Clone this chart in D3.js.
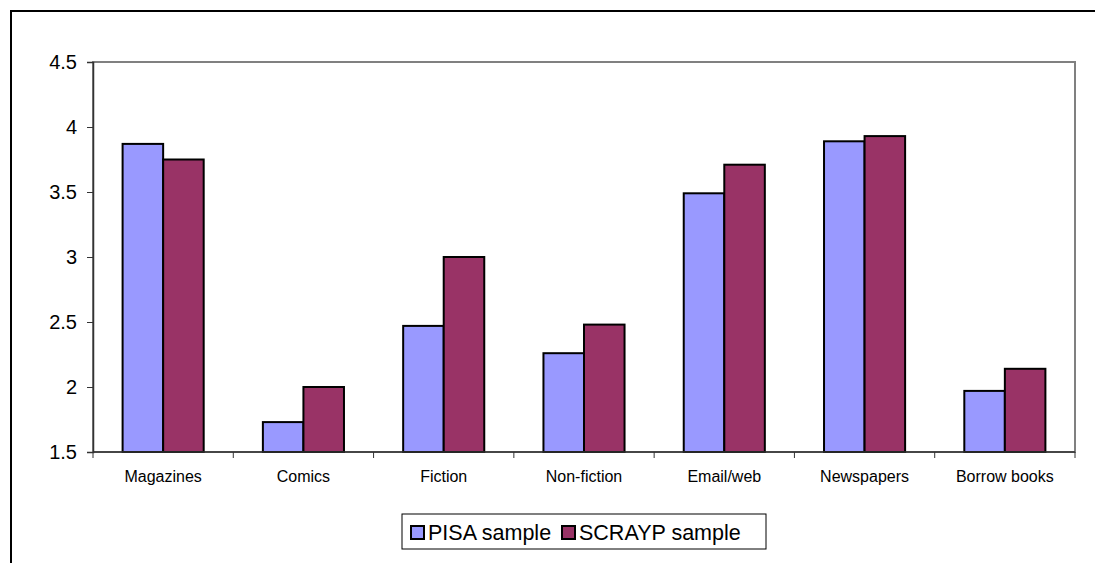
<!DOCTYPE html>
<html>
<head>
<meta charset="utf-8">
<script src="https://cdn.jsdelivr.net/npm/d3@7"></script>
<style>
  body { margin: 0; background: #fff; }
  svg { font-family: "Liberation Sans", Arial, sans-serif; }
</style>
</head>
<body>
<div id="chart"></div>
<script>
// data
var categories = ["Magazines", "Comics", "Fiction", "Non-fiction", "Email/web", "Newspapers", "Borrow books"];
var seriesNames = ["PISA sample", "SCRAYP sample"];
var pisa = [3.87, 1.73, 2.47, 2.26, 3.49, 3.89, 1.97];
var scrayp = [3.75, 2.00, 3.00, 2.48, 3.71, 3.93, 2.14];
var yTicks = [1.5, 2, 2.5, 3, 3.5, 4, 4.5];
var colors = ["#9999FF", "#993366"];

var width = 1095, height = 563;
var margin = {top: 62, right: 20, bottom: 111, left: 93};
var w = 1075 - margin.left, h = 452 - margin.top;

var svg = d3.select("#chart").append("svg")
    .attr("width", width)
    .attr("height", height);

// outer frame (runs off the right and bottom edges)
svg.append("rect")
    .attr("x", 11).attr("y", 11)
    .attr("width", 1100).attr("height", 600)
    .style("fill", "none")
    .style("stroke", "#000")
    .style("stroke-width", 2);

var g = svg.append("g").attr("transform", "translate(" + margin.left + "," + margin.top + ")");

var x = d3.scaleBand().domain(categories).range([0, w]);
var xs = d3.scaleBand().domain(seriesNames).range([0, x.bandwidth()]).paddingOuter(0.73);
var y = d3.scaleLinear().domain([1.5, 4.5]).range([h, 0]);

// plot area border (grey top/right)
g.append("rect")
    .attr("width", w).attr("height", h)
    .style("fill", "none")
    .style("stroke", "#808080")
    .style("stroke-width", 2);

var rows = categories.map(function(c, i) { return {cat: c, vals: [pisa[i], scrayp[i]]}; });

var groups = g.selectAll(".grp").data(rows).enter().append("g")
    .attr("class", "grp")
    .attr("transform", function(d) { return "translate(" + x(d.cat) + ",0)"; });

groups.selectAll("rect").data(function(d) {
        return d.vals.map(function(v, j) { return {name: seriesNames[j], v: v, j: j}; });
    })
    .enter().append("rect")
    .attr("x", function(d) { return xs(d.name); })
    .attr("width", xs.bandwidth())
    .attr("y", function(d) { return y(d.v); })
    .attr("height", function(d) { return h - y(d.v); })
    .style("fill", function(d) { return colors[d.j]; })
    .style("stroke", "#000")
    .style("stroke-width", 2);

// y axis
var yAxis = g.append("g")
    .call(d3.axisLeft(y).tickValues(yTicks).tickFormat(d3.format("")).tickSize(6).tickPadding(10));
yAxis.select(".domain").style("stroke", "#333").style("stroke-width", 1.5);
yAxis.selectAll(".tick line").style("stroke", "#333");
yAxis.selectAll("text").style("font-size", "20px").style("fill", "#000");

// x axis: ticks at category boundaries
var xAxis = g.append("g").attr("transform", "translate(0," + h + ")");
xAxis.append("line")
    .attr("x1", 0).attr("x2", w)
    .style("stroke", "#333").style("stroke-width", 1.5);
xAxis.selectAll(".xt").data(categories.concat(["end"])).enter().append("line")
    .attr("x1", function(d, i) { return i * x.step(); })
    .attr("x2", function(d, i) { return i * x.step(); })
    .attr("y1", 0).attr("y2", 6)
    .style("stroke", "#333");
xAxis.selectAll(".xl").data(categories).enter().append("text")
    .attr("x", function(d) { return x(d) + x.bandwidth() / 2; })
    .attr("y", 30)
    .attr("text-anchor", "middle")
    .style("font-size", "16px")
    .text(function(d) { return d; });

// legend
var legend = svg.append("g").attr("transform", "translate(402,514)");
legend.append("rect")
    .attr("width", 364).attr("height", 35)
    .style("fill", "#fff")
    .style("stroke", "#000")
    .style("stroke-width", 1);
var itemX = [9, 160];
var li = legend.selectAll(".li").data(seriesNames).enter().append("g")
    .attr("transform", function(d, i) { return "translate(" + itemX[i] + ",0)"; });
li.append("rect")
    .attr("x", 0).attr("y", 12)
    .attr("width", 13).attr("height", 13)
    .style("fill", function(d, i) { return colors[i]; })
    .style("stroke", "#000")
    .style("stroke-width", 2);
li.append("text")
    .attr("x", 17).attr("y", 26)
    .style("font-size", "21.5px")
    .text(function(d) { return d; });
</script>
</body>
</html>
